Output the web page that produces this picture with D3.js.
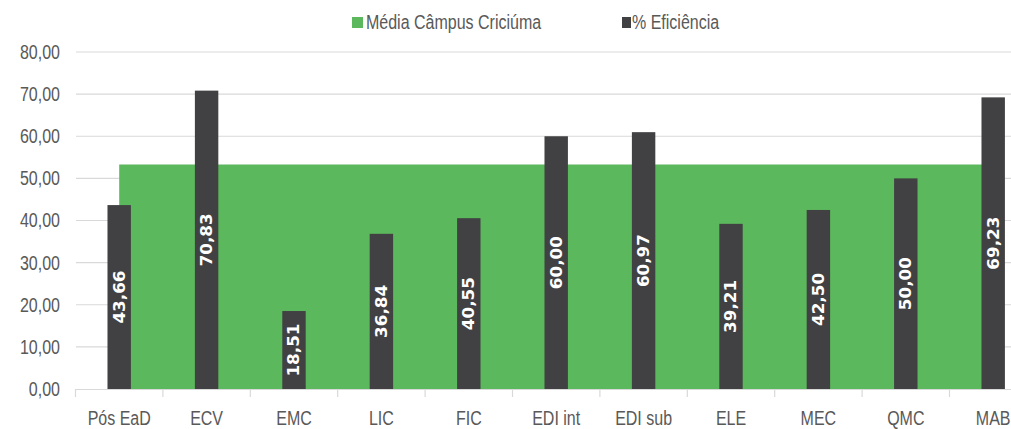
<!DOCTYPE html>
<html>
<head>
<meta charset="utf-8">
<script src="https://cdn.jsdelivr.net/npm/d3@7"></script>
<style>
  html, body { margin: 0; padding: 0; background: #ffffff; }
  svg { display: block; }
</style>
</head>
<body>
<div id="chart"></div>
<script>
const categories = ["Pós EaD", "ECV", "EMC", "LIC", "FIC", "EDI int", "EDI sub", "ELE", "MEC", "QMC", "MAB"];
const eficiencia = [43.66, 70.83, 18.51, 36.84, 40.55, 60.00, 60.97, 39.21, 42.50, 50.00, 69.23];
const mediaCampus = [53.3, 53.3, 53.3, 53.3, 53.3, 53.3, 53.3, 53.3, 53.3, 53.3, 53.3];
const yTicks = [0, 10, 20, 30, 40, 50, 60, 70, 80];
const seriesNames = ["Média Câmpus Criciúma", "% Eficiência"];

const W = 1011, H = 429;
const labelFont = "'Liberation Sans', Arial, sans-serif";
const narrow = "scale(0.8,1)";
const green = "#5cb85c", dark = "#414143", textCol = "#595959";

const svg = d3.select("#chart").append("svg").attr("width", W).attr("height", H);

const x = d3.scaleBand().domain(categories).range([75.5, 1036.9]).paddingInner(0).paddingOuter(0);
const y = d3.scaleLinear().domain([0, 80]).range([389, 52]);
const barW = x.bandwidth() * 0.268;
const cx = c => x(c) + x.bandwidth() / 2;

// gridlines
svg.append("g").selectAll("line").data(yTicks.filter(t => t > 0)).join("line")
  .attr("x1", 76).attr("x2", W).attr("y1", d => y(d)).attr("y2", d => y(d))
  .attr("stroke", "#d9d9d9").attr("stroke-width", 1.2);

// y-axis labels
const yAxis = d3.axisLeft(y).tickValues(yTicks).tickSize(0).tickPadding(0)
  .tickFormat(d => d3.format(".2f")(d).replace(".", ","));
const gy = svg.append("g").attr("transform", "translate(60,0)").call(yAxis);
gy.select(".domain").remove();
gy.selectAll("text").attr("x", 0).attr("font-family", labelFont).attr("font-size", 20)
  .attr("fill", textCol).attr("transform", narrow);

// area series
const area = d3.area().x((d, i) => cx(categories[i])).y0(y(0)).y1(d => y(d));
svg.append("path").datum(mediaCampus).attr("d", area).attr("fill", green);

// bars
svg.append("g").selectAll("rect").data(eficiencia).join("rect")
  .attr("x", (d, i) => cx(categories[i]) - barW / 2)
  .attr("width", barW)
  .attr("y", d => y(d))
  .attr("height", d => y(0) - y(d))
  .attr("fill", dark);

// bar labels
svg.append("g").selectAll("text").data(eficiencia).join("text")
  .attr("transform", (d, i) => `translate(${cx(categories[i])},${(y(d) + y(0)) / 2}) rotate(-90) scale(1.12,1)`)
  .attr("text-anchor", "middle").attr("dy", "0.36em")
  .attr("font-family", "'DejaVu Sans', Verdana, sans-serif").attr("font-weight", "bold")
  .attr("font-size", 15).attr("fill", "#ffffff")
  .text(d => d3.format(".2f")(d).replace(".", ","));

// x-axis
const xAxis = d3.axisBottom(x).tickSize(0).tickPadding(0);
const gx = svg.append("g").attr("transform", `translate(0,${y(0)})`).call(xAxis);
gx.select(".domain").attr("stroke", "#d9d9d9").attr("stroke-width", 1.2);
gx.selectAll("text").attr("y", 0).attr("dy", 0).attr("transform", `translate(0,36) ${narrow}`)
  .attr("font-family", labelFont).attr("font-size", 20).attr("fill", textCol);
// tick marks between categories
svg.append("g").selectAll("line").data(categories).join("line")
  .attr("x1", d => x(d)).attr("x2", d => x(d))
  .attr("y1", y(0)).attr("y2", y(0) + 8)
  .attr("stroke", "#d9d9d9").attr("stroke-width", 1.2);

// legend
const legend = [
  { name: seriesNames[0], color: green, sx: 352, sw: 11, tx: 366 },
  { name: seriesNames[1], color: dark, sx: 622, sw: 9, tx: 632 }
];
const lg = svg.append("g").selectAll("g").data(legend).join("g");
lg.append("rect").attr("x", d => d.sx).attr("y", 17).attr("width", d => d.sw).attr("height", 11).attr("fill", d => d.color);
lg.append("text").attr("transform", d => `translate(${d.tx},29) ${narrow}`)
  .attr("font-family", labelFont).attr("font-size", 20).attr("fill", textCol)
  .text(d => d.name);
</script>
</body>
</html>
